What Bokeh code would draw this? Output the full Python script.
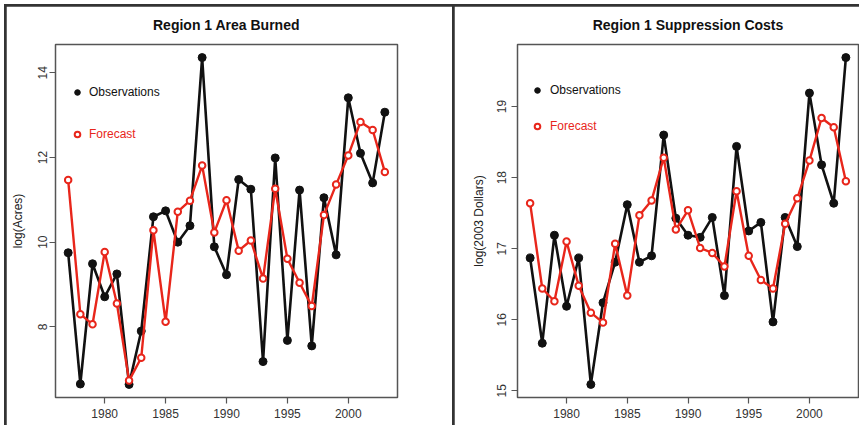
from bokeh.plotting import figure
from bokeh.layouts import row, column
from bokeh.models import Range1d, FixedTicker, Legend, LegendItem
from bokeh.embed import file_html
from bokeh.resources import INLINE

# ---- data ----
years = list(range(1977, 2004))
area_obs = [9.75, 6.65, 9.49, 8.71, 9.25, 6.64, 7.90, 10.60, 10.74, 10.00, 10.39, 14.36, 9.89, 9.23,
            11.48, 11.25, 7.18, 11.99, 7.68, 11.23, 7.55, 11.05, 9.70, 13.41, 12.10, 11.40, 13.07]
area_fc = [11.47, 8.30, 8.06, 9.77, 8.55, 6.73, 7.27, 10.28, 8.12, 10.72, 10.98, 11.81, 10.23, 10.99,
           9.80, 10.04, 9.14, 11.26, 9.61, 9.04, 8.49, 10.64, 11.36, 12.05, 12.84, 12.65, 11.66]
cost_obs = [16.87, 15.67, 17.19, 16.19, 16.87, 15.09, 16.24, 16.81, 17.62, 16.81, 16.90, 18.60, 17.43, 17.19,
            17.16, 17.44, 16.34, 18.44, 17.25, 17.37, 15.97, 17.44, 17.03, 19.19, 18.18, 17.64, 19.69]
cost_fc = [17.64, 16.44, 16.26, 17.10, 16.48, 16.10, 15.96, 17.07, 16.34, 17.47, 17.68, 18.28, 17.27, 17.54,
           17.01, 16.94, 16.75, 17.81, 16.90, 16.56, 16.44, 17.35, 17.71, 18.24, 18.84, 18.71, 17.95]
x_ticks = [1980, 1985, 1990, 1995, 2000]
area_ticks = [8, 10, 12, 14]
cost_ticks = [15, 16, 17, 18, 19]

FONT = "Liberation Sans"
BLACK = "#111111"
RED = "#e8261b"


def padded(vals):
    lo, hi = min(vals), max(vals)
    d = 0.04 * (hi - lo)
    return Range1d(lo - d, hi + d)


def panel(title, ylabel, obs, fc, yticks, width, bl, br, leg_x, leg_y1, leg_y2, leg_standoff,
          tick_standoff, label_standoff):
    p = figure(width=width, height=419, x_range=padded(years), y_range=padded(obs + fc),
               output_backend="svg", toolbar_location=None, title=title,
               min_border_left=bl, min_border_right=br, min_border_top=38, min_border_bottom=28)
    p.title.text_font = FONT
    p.title.text_font_size = "14px"
    p.title.text_font_style = "bold"
    p.title.text_color = "#111111"
    p.title.align = "center"
    p.title.vertical_align = "top"
    p.title.standoff = 19

    p.xgrid.visible = False
    p.ygrid.visible = False
    p.outline_line_color = "#555555"
    p.outline_line_width = 1.5
    p.background_fill_color = "white"
    p.border_fill_color = "white"

    for ax in (p.xaxis[0], p.yaxis[0]):
        ax.axis_line_color = None
        ax.major_tick_line_color = "#555555"
        ax.major_tick_line_width = 1.2
        ax.major_tick_in = 0
        ax.major_tick_out = 6
        ax.minor_tick_line_color = None
        ax.major_label_text_font = FONT
        ax.major_label_text_font_size = "12px"
        ax.major_label_text_color = "#333333"
    p.xaxis.ticker = FixedTicker(ticks=x_ticks)
    p.yaxis.ticker = FixedTicker(ticks=yticks)
    p.xaxis.major_label_standoff = 5
    p.yaxis.major_label_standoff = tick_standoff
    p.yaxis.major_label_orientation = "vertical"
    p.yaxis.axis_label = ylabel
    p.yaxis.axis_label_text_font = FONT
    p.yaxis.axis_label_text_font_size = "12px"
    p.yaxis.axis_label_text_font_style = "normal"
    p.yaxis.axis_label_text_color = "#222222"
    p.yaxis.axis_label_standoff = label_standoff

    p.line(years, obs, line_color=BLACK, line_width=2.6)
    r_obs = p.scatter(years, obs, size=8, fill_color=BLACK, line_color=BLACK)
    p.line(years, fc, line_color=RED, line_width=2.4)
    r_fc = p.scatter(years, fc, size=6.5, fill_color="white", line_color=RED, line_width=2)

    for lab, rend, col, ly in (("Observations", r_obs, "#111111", leg_y1),
                               ("Forecast", r_fc, RED, leg_y2)):
        lg = Legend(items=[LegendItem(label=lab, renderers=[rend])], location=(leg_x, ly),
                    padding=0, margin=0, border_line_color=None, background_fill_alpha=0,
                    glyph_width=14, glyph_height=16, label_height=16,
                    label_standoff=leg_standoff, label_text_font=FONT,
                    label_text_font_size="12px", label_text_color=col)
        p.add_layout(lg)
    return p


p1 = panel("Region 1 Area Burned", "log(Acres)", area_obs, area_fc, area_ticks,
           width=446, bl=49, br=55, leg_x=15, leg_y1=297, leg_y2=255, leg_standoff=5,
           tick_standoff=2, label_standoff=11)
p2 = panel("Region 1 Suppression Costs", "log(2003 Dollars)", cost_obs, cost_fc, cost_ticks,
           width=405, bl=63, br=1, leg_x=13, leg_y1=299, leg_y2=263, leg_standoff=6,
           tick_standoff=5, label_standoff=9)

panels = row(p1, p2, spacing=2,
             styles={"background-color": "#333333", "padding-top": "2px", "padding-left": "2px"})
page = column(panels, styles={"background-color": "white", "padding-top": "4px", "padding-left": "4px"})

open("out.html", "w").write(file_html(page, INLINE))
